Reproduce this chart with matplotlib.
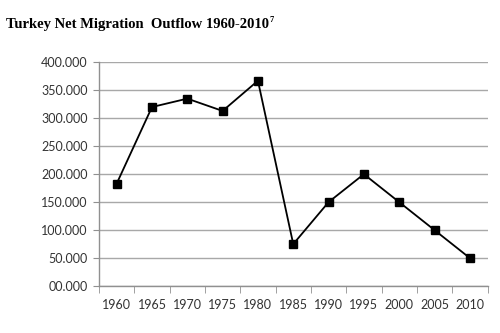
import matplotlib
matplotlib.use("Agg")

import numpy as np
import matplotlib.pyplot as plt
from matplotlib.ticker import FixedLocator, FuncFormatter

years = ['1960', '1965', '1970', '1975', '1980', '1985',
         '1990', '1995', '2000', '2005', '2010']
outflow = [183000, 320000, 335000, 313000, 367000, 75000,
           150000, 200000, 150000, 100000, 50000]
yticks = [0, 50000, 100000, 150000, 200000, 250000, 300000, 350000, 400000]


def fmt(v, pos):
    # dot as thousands separator, zero shown as 00.000
    if v == 0:
        return '00.000'
    return '{:,.0f}'.format(v).replace(',', '.')


fig = plt.figure(figsize=(5.0, 3.33), dpi=100)
ax = fig.add_axes([0.198, 0.141, 0.777, 0.672])

xs = np.arange(len(years))
ax.plot(xs, outflow, color='black', linewidth=1.3, marker='s',
        markersize=6, markerfacecolor='black', markeredgecolor='black', zorder=3)

ax.set_xlim(-0.5, len(years) - 0.5)
ax.set_ylim(0, 400000)
ax.set_yticks(yticks)
ax.yaxis.set_major_formatter(FuncFormatter(fmt))
ax.set_xticks(xs)
ax.set_xticklabels(years)
ax.xaxis.set_minor_locator(FixedLocator(np.arange(-0.5, len(years), 1.0)))

ax.grid(axis='y', color='#a8a8a8', linewidth=1.0)
ax.set_axisbelow(True)
for s in ['top', 'right']:
    ax.spines[s].set_visible(False)
for s in ['left', 'bottom']:
    ax.spines[s].set_color('#909090')
    ax.spines[s].set_linewidth(1.0)

ax.tick_params(axis='y', length=4, color='#909090', labelsize=9,
               labelcolor='#333333', pad=4)
ax.tick_params(axis='x', which='major', length=0, labelsize=9,
               labelcolor='#333333', pad=9)
ax.tick_params(axis='x', which='minor', length=5, color='#909090')
for lab in ax.get_xticklabels() + ax.get_yticklabels():
    lab.set_family('Lato')

title = fig.text(0.012, 0.925, 'Turkey Net Migration  Outflow 1960-2010',
                 family='Liberation Serif', weight='bold', fontsize=10.5,
                 ha='left', va='center')
# footnote marker after the title
ax.annotate('7', xy=(1, 1), xycoords=title, xytext=(0.5, 1.5),
            textcoords='offset points', family='Liberation Serif',
            weight='bold', fontsize=6, ha='left', va='top')

fig.savefig('out.png', dpi=100)
